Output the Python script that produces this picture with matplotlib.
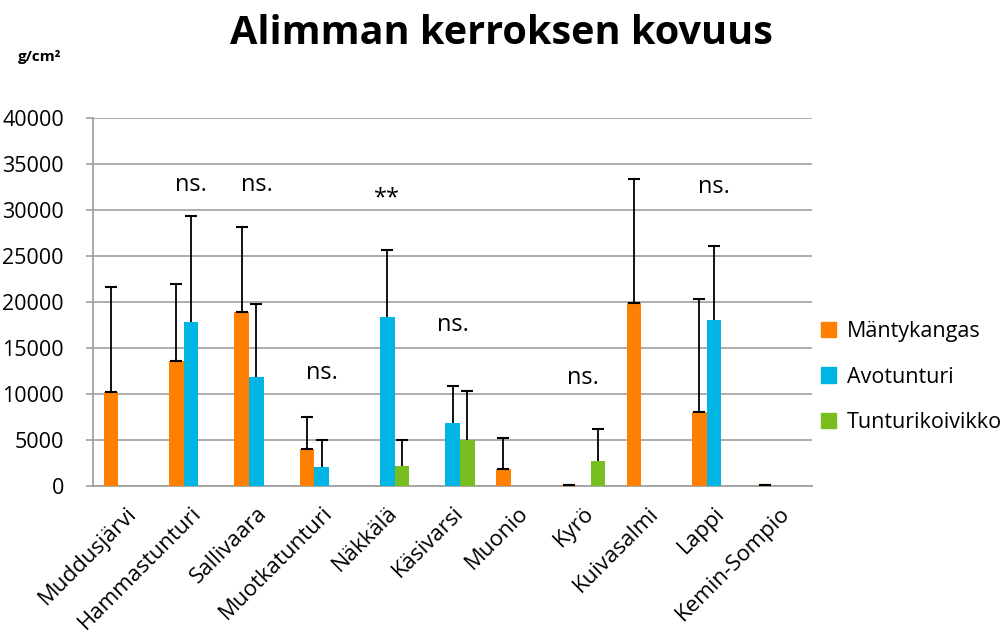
import numpy as np
import matplotlib.pyplot as plt
from matplotlib.patches import Patch

plt.rcParams['font.family'] = ['Open Sans', 'DejaVu Sans']

sites = ['Muddusjärvi', 'Hammastunturi', 'Sallivaara', 'Muotkatunturi', 'Näkkälä',
         'Käsivarsi', 'Muonio', 'Kyrö', 'Kuivasalmi', 'Lappi', 'Kemin-Sompio']
series = ['Mäntykangas', 'Avotunturi', 'Tunturikoivikko']
colors = ['#FF8000', '#00B4E4', '#78BE20']

# means (g/cm2), nan = no data
mantykangas = [10250, 13600, 18900, 4000, np.nan, np.nan, 1800, 60, 19850, 8050, 60]
avotunturi = [np.nan, 17800, 11900, 2100, 18350, 6850, np.nan, np.nan, np.nan, 18050, np.nan]
tunturikoivikko = [np.nan, np.nan, np.nan, np.nan, 2150, 5000, np.nan, 2700, np.nan, np.nan, np.nan]
# upper error (sd)
mantykangas_err = [11400, 8350, 9250, 3450, np.nan, np.nan, 3400, 40, 13500, 12250, 40]
avotunturi_err = [np.nan, 11550, 7900, 2900, 7300, 4000, np.nan, np.nan, np.nan, 8050, np.nan]
tunturikoivikko_err = [np.nan, np.nan, np.nan, np.nan, 2800, 5350, np.nan, 3450, np.nan, np.nan, np.nan]

# significance labels: (site index, text, y)
sig_labels = [(1, 'ns.', 32700), (2, 'ns.', 32700), (3, 'ns.', 12300), (4, '**', 31300),
              (5, 'ns.', 17500), (7, 'ns.', 11700), (9, 'ns.', 32500)]

values = [mantykangas, avotunturi, tunturikoivikko]
errs = [mantykangas_err, avotunturi_err, tunturikoivikko_err]

fig = plt.figure(figsize=(10.08, 6.38), dpi=100)
ax = fig.add_axes((0.0923, 0.2382, 0.7133, 0.5768))

x = np.arange(len(sites))
w = 0.225
for i in range(3):
    v = np.array(values[i], dtype=float)
    e = np.array(errs[i], dtype=float)
    pos = x + (i - 1) * w
    ax.bar(pos, v, width=w, color=colors[i], zorder=3)
    el = ax.errorbar(pos, v, yerr=[np.zeros_like(e), e], fmt='none', ecolor='black',
                     elinewidth=1.3, capsize=4, capthick=1.5, zorder=4)
    if i > 0:
        el[1][0].set_visible(False)

for idx, txt, yv in sig_labels:
    ax.text(idx, yv, txt, ha='center', va='center', fontsize=17)

ax.set_xlim(-0.5, len(sites) - 0.5)
ax.set_ylim(0, 40000)
ax.set_yticks(np.arange(0, 40001, 5000))
ax.tick_params(axis='y', labelsize=15.5, length=5, color='#a0a0a0', width=1.2, pad=16)
ax.tick_params(axis='x', length=0, pad=12)
ax.set_xticks(x)
ax.set_xticklabels(sites, rotation=45, ha='right', va='top', rotation_mode='anchor', fontsize=16)
ax.grid(axis='y', color='#a6a6a6', linewidth=1.3, zorder=0)
for s in ['top', 'right']:
    ax.spines[s].set_visible(False)
for s in ['left', 'bottom']:
    ax.spines[s].set_color('#a0a0a0')
    ax.spines[s].set_linewidth(1.3)

handles = [Patch(color=c) for c in colors]
fig.legend(handles, series, loc='center left', bbox_to_anchor=(0.795, 0.409), frameon=False,
           fontsize=15.5, handlelength=0.7, handleheight=0.7, handletextpad=0.5, labelspacing=1.15)

fig.text(0.497, 0.948, 'Alimman kerroksen kovuus', ha='center', va='center',
         fontsize=28.5, fontweight='bold')
fig.text(0.039, 0.91, 'g/cm²', ha='center', va='center', fontsize=11, fontweight='bold')

fig.savefig('out.png', dpi=100)
